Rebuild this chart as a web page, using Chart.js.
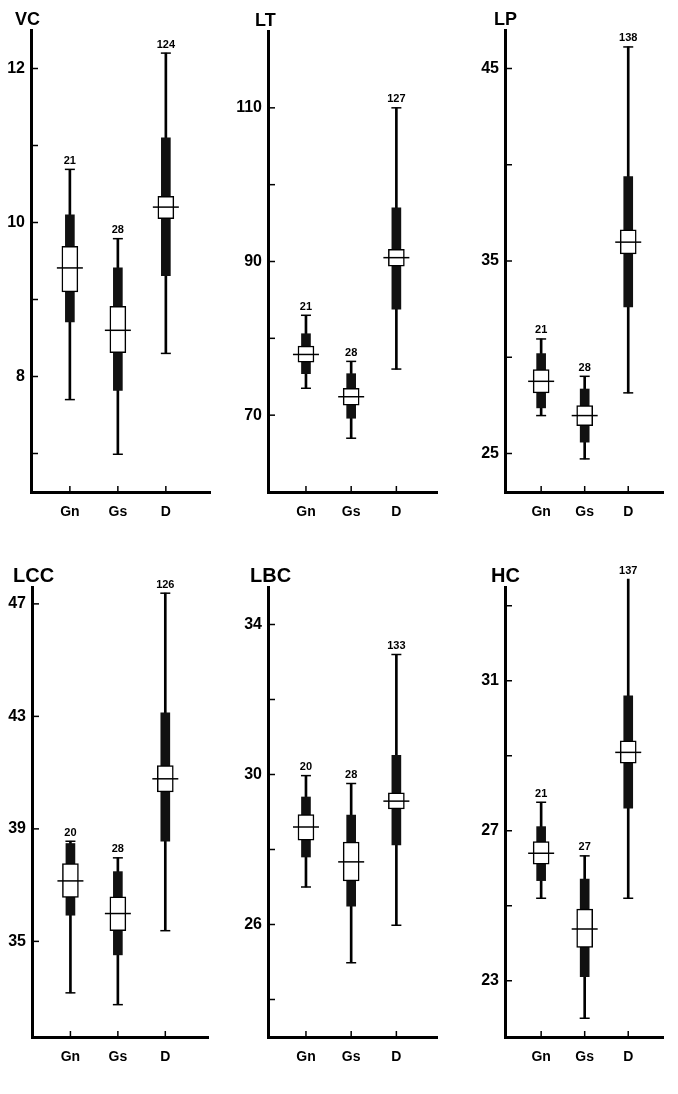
<!doctype html>
<html lang="en">
  <head>
    <meta charset="UTF-8" />
    <title>Gn / Gs / D measurements</title>
    <script src="https://cdn.jsdelivr.net/npm/chart.js"></script>
    <style>
      body {
        margin: 0;
        background: #fff;
        width: 678px;
        height: 1094px;
        position: relative;
        overflow: hidden;
      }
      .panel {
        position: absolute;
      }
    </style>
  </head>
  <body>
    <div class="panel" style="left: 0; top: 0"><canvas id="c0" width="226" height="540"></canvas></div>
    <div class="panel" style="left: 226px; top: 0"><canvas id="c1" width="226" height="540"></canvas></div>
    <div class="panel" style="left: 452px; top: 0"><canvas id="c2" width="226" height="540"></canvas></div>
    <div class="panel" style="left: 0; top: 540px"><canvas id="c3" width="226" height="554"></canvas></div>
    <div class="panel" style="left: 226px; top: 540px"><canvas id="c4" width="226" height="554"></canvas></div>
    <div class="panel" style="left: 452px; top: 540px"><canvas id="c5" width="226" height="554"></canvas></div>

    <script>
      // panels in reading order, groups Gn / Gs / D
      const panels = ["VC", "LT", "LP", "LCC", "LBC", "HC"];
      const groups = ["Gn", "Gs", "D"];
      const counts = [[21, 28, 124], [21, 28, 127], [21, 28, 138], [20, 28, 126], [20, 28, 133], [21, 27, 137]];

      const minVals = [[7.7, 6.99, 8.3], [73.5, 67.0, 76.0], [26.97, 24.72, 28.15], [33.17, 32.75, 35.38], [27.0, 24.98, 25.98], [25.2, 22.0, 25.2]];
      const sdLow = [[8.71, 7.82, 9.31], [75.4, 69.6, 83.8], [27.37, 25.59, 32.61], [35.93, 34.52, 38.56], [27.8, 26.49, 28.12], [25.67, 23.11, 27.6]];
      const seLow = [[9.1, 8.31, 10.05], [76.9, 71.3, 89.4], [28.15, 26.45, 35.37], [36.56, 35.38, 40.31], [28.25, 27.16, 29.08], [26.11, 23.89, 28.8]];
      const means = [[9.41, 8.6, 10.2], [77.9, 72.4, 90.5], [28.75, 26.97, 35.98], [37.15, 35.99, 40.78], [28.6, 27.67, 29.29], [26.4, 24.38, 29.09]];
      const seHigh = [[9.69, 8.91, 10.34], [79.0, 73.5, 91.6], [29.36, 27.49, 36.62], [37.77, 36.58, 41.25], [28.93, 28.2, 29.51], [26.71, 24.91, 29.4]];
      const sdHigh = [[10.1, 9.41, 11.1], [80.6, 75.4, 97.0], [30.19, 28.35, 39.38], [38.48, 37.48, 43.13], [29.4, 28.92, 30.51], [27.11, 25.71, 30.6]];
      const maxVals = [[10.69, 9.79, 12.2], [83.0, 77.0, 110.0], [30.95, 29.01, 46.12], [38.56, 37.97, 47.38], [29.97, 29.76, 33.2], [27.76, 26.33, 33.71]];

      const yRange = [[6.5, 12.5], [60, 120], [23, 47], [31.6, 47.6], [23, 35], [21.5, 33.5]];
      const yTicks = [[7, 8, 9, 10, 11, 12], [70, 80, 90, 100, 110], [25, 30, 35, 40, 45], [35, 39, 43, 47], [24, 26, 28, 30, 32, 34], [23, 25, 27, 29, 31, 33]];
      const yLabels = [[8, 10, 12], [70, 90, 110], [25, 35, 45], [35, 39, 43, 47], [26, 30, 34], [23, 27, 31]];

      // layout of each small chart inside its canvas
      const layout = [
        { yW: 31, top: 30, right: 16, xH: 48, xMin: 0.19, xMax: 3.92, dx: -16, tf: 18 },
        { yW: 42, top: 31, right: 6, xH: 48, xMin: 0.16, xMax: 3.91, dx: -13, tf: 18 },
        { yW: 53, top: 30, right: 0, xH: 48, xMin: 0.17, xMax: 3.81, dx: -11, tf: 18 },
        { yW: 32, top: 47, right: 18, xH: 57, xMin: 0.19, xMax: 3.9, dx: -19, tf: 20 },
        { yW: 42, top: 47, right: 6, xH: 57, xMin: 0.16, xMax: 3.91, dx: -18, tf: 20 },
        { yW: 53, top: 47, right: 0, xH: 57, xMin: 0.17, xMax: 3.81, dx: -14, tf: 20 },
      ];

      const FONT = "'Liberation Sans', Arial, sans-serif";

      // inward tick marks, panel title and sample sizes
      const axisMarks = {
        id: "axisMarks",
        afterDraw(chart, args, opts) {
          const { ctx, chartArea: a } = chart;
          const x = chart.scales.x;
          const y = chart.scales.y;
          ctx.save();
          ctx.strokeStyle = "#000";
          ctx.lineWidth = 1.5;
          y.ticks.forEach((t) => {
            const py = y.getPixelForValue(t.value);
            ctx.beginPath();
            ctx.moveTo(a.left, py);
            ctx.lineTo(a.left + 7, py);
            ctx.stroke();
          });
          x.ticks.forEach((t) => {
            const px = x.getPixelForValue(t.value);
            ctx.beginPath();
            ctx.moveTo(px, a.bottom);
            ctx.lineTo(px, a.bottom - 6);
            ctx.stroke();
          });

          ctx.fillStyle = "#000";
          ctx.textAlign = "left";
          ctx.textBaseline = "alphabetic";
          ctx.font = "bold " + opts.titleSize + "px " + FONT;
          ctx.fillText(opts.title, a.left + opts.dx, a.top - 5);

          ctx.font = "bold 11px " + FONT;
          ctx.textAlign = "center";
          ctx.textBaseline = "bottom";
          opts.counts.forEach((n, i) => {
            ctx.fillText(String(n), x.getPixelForValue(i + 1), y.getPixelForValue(opts.tops[i]) - 3);
          });
          ctx.restore();
        },
      };

      function points(vals) {
        return vals.map((v, i) => ({ x: i + 1, y: v }));
      }

      function spans(lo, hi) {
        return lo.map((v, i) => ({ x: i + 1, y: [v, hi[i]] }));
      }

      function buildChart(p) {
        const L = layout[p];
        new Chart(document.getElementById("c" + p), {
          type: "bar",
          data: {
            datasets: [
              {
                type: "line",
                data: points(means[p]),
                showLine: false,
                pointStyle: "line",
                pointRadius: 13,
                pointBorderWidth: 1.5,
                pointBorderColor: "#000",
                order: 1,
                clip: false,
              },
              {
                type: "line",
                data: points(minVals[p]).concat(points(maxVals[p])),
                showLine: false,
                pointStyle: "line",
                pointRadius: 5,
                pointBorderWidth: 1.5,
                pointBorderColor: "#000",
                order: 2,
                clip: false,
              },
              {
                data: spans(seLow[p], seHigh[p]),
                barThickness: 16,
                backgroundColor: "#fff",
                borderColor: "#000",
                borderWidth: 1.5,
                borderSkipped: false,
                grouped: false,
                order: 3,
                clip: false,
              },
              {
                data: spans(sdLow[p], sdHigh[p]),
                barThickness: 9,
                backgroundColor: "#111",
                grouped: false,
                order: 4,
                clip: false,
              },
              {
                data: spans(minVals[p], maxVals[p]),
                barThickness: 2,
                backgroundColor: "#000",
                grouped: false,
                order: 5,
                clip: false,
              },
            ],
          },
          options: {
            responsive: false,
            animation: false,
            events: [],
            layout: { padding: { top: L.top, right: L.right, left: 0, bottom: 0 } },
            plugins: {
              legend: { display: false },
              tooltip: { enabled: false },
              axisMarks: {
                title: panels[p],
                titleSize: L.tf,
                dx: L.dx,
                counts: counts[p],
                tops: maxVals[p],
              },
            },
            scales: {
              x: {
                type: "linear",
                offset: false,
                min: L.xMin,
                max: L.xMax,
                grid: { display: false, drawTicks: false, offset: false },
                border: { color: "#000", width: 3 },
                afterBuildTicks: (s) => {
                  s.ticks = groups.map((g, i) => ({ value: i + 1 }));
                },
                afterFit: (s) => {
                  s.height = L.xH;
                },
                ticks: {
                  color: "#000",
                  padding: 12,
                  autoSkip: false,
                  maxRotation: 0,
                  font: { family: FONT, size: 14, weight: "bold" },
                  callback: (v) => groups[v - 1],
                },
              },
              y: {
                min: yRange[p][0],
                max: yRange[p][1],
                grid: { display: false, drawTicks: false },
                border: { color: "#000", width: 3 },
                afterBuildTicks: (s) => {
                  s.ticks = yTicks[p].map((v) => ({ value: v }));
                },
                afterFit: (s) => {
                  s.width = L.yW;
                },
                ticks: {
                  color: "#000",
                  padding: 6,
                  font: { family: FONT, size: 16, weight: "bold" },
                  callback: (v) => (yLabels[p].includes(v) ? String(v) : ""),
                },
              },
            },
          },
          plugins: [axisMarks],
        });
      }

      panels.forEach((name, p) => buildChart(p));
    </script>
  </body>
</html>
